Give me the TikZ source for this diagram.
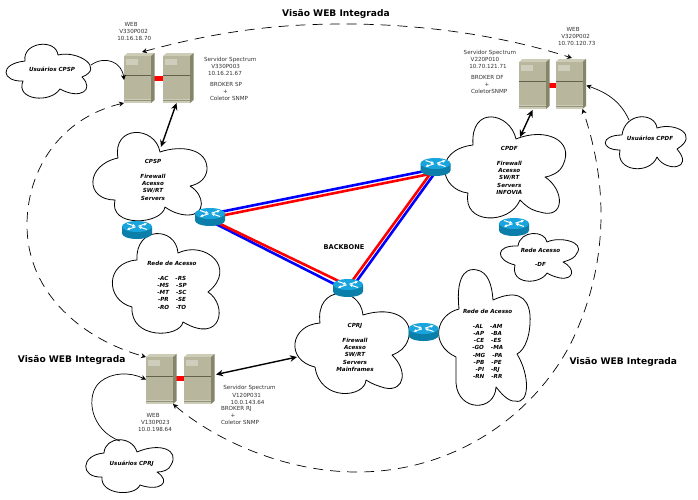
\documentclass[tikz,border=0pt]{standalone}
\usepackage{fontspec}
\setmainfont{DejaVu Sans}
\usetikzlibrary{arrows.meta,calc}
\definecolor{srvfront}{HTML}{B8B69C}
\definecolor{srvside}{HTML}{85856A}
\definecolor{srvtop}{HTML}{CDCCB6}
\definecolor{srvline}{HTML}{62624C}
\definecolor{srvpanel}{HTML}{CFCEBC}
\definecolor{rtrtop}{HTML}{18A4DC}
\definecolor{rtrbody}{HTML}{0B7FA9}
\tikzset{
  srvbox/.style={inner sep=0pt,outer sep=0pt,minimum width=27pt,minimum height=47pt},
  rtrbox/.style={inner sep=0pt,outer sep=0pt,minimum width=30pt,minimum height=18pt},
  cloudline/.style={draw=black,fill=white,line width=0.8pt,line join=round},
  redbar/.style={draw=red,line width=5pt},
  bluelink/.style={draw=blue,line width=2.6pt},
  redlink/.style={draw=red,line width=2.6pt},
  trunk/.style={line width=1.4pt,{Stealth[length=7pt,width=6.5pt]}-{Stealth[length=7pt,width=6.5pt]}},
  ring/.style={line width=0.7pt,dash pattern=on 10pt off 7pt,{Stealth[length=5pt,width=5pt]}-{Stealth[length=5pt,width=5pt]}},
  userlink/.style={line width=0.7pt,-{Stealth[length=5pt,width=5pt]}},
  srvlabel/.style={inner sep=0pt,outer sep=0pt,anchor=north west,align=left,text=black!80,font=\fontsize{5.6}{7.2}\selectfont},
  cloudlabel/.style={inner sep=0pt,outer sep=0pt,align=center,font=\fontsize{5.6}{7.25}\selectfont\bfseries\itshape},
  viewtitle/.style={inner sep=0pt,outer sep=0pt,font=\fontsize{9.1}{11}\selectfont\bfseries},
}
\newcommand{\srvdraw}[3]{%
  \begin{scope}[shift={(#2,#3)}]
    \fill[srvtop] (0,0) -- (3.5,-3) -- (30.5,-3) -- (27,0) -- cycle;
    \fill[srvside] (27,0) -- (30.5,-3) -- (30.5,44) -- (27,47) -- cycle;
    \fill[srvfront] (0,0) rectangle (27,47);
    \fill[srvpanel] (2,3) rectangle (14,9);
    \fill[srvtop] (0,42.5) rectangle (27,47);
    \draw[srvfront!80!black,line width=0.4pt] (0,44) -- (27,44);
    \draw[srvline,line width=0.8pt] (0,19) -- (27,19);
  \end{scope}
  \node[srvbox] (#1) at (#2+13.5,#3+23.5) {};
}
\newcommand{\rtrdraw}[3]{%
  \begin{scope}[shift={(#2,#3)}]
    \fill[rtrbody] (-15,0) -- (-15,7) arc[start angle=180,end angle=360,x radius=15,y radius=-5.5] -- (15,0) -- cycle;
    \fill[rtrtop] (0,0) ellipse [x radius=15,y radius=5.5];
    \draw[white,line width=1pt,-{Stealth[length=3.2pt,width=3.2pt]}] (-10,-3) -- (-1.5,-0.2);
    \draw[white,line width=1pt,-{Stealth[length=3.2pt,width=3.2pt]}] (10,3) -- (1.5,0.2);
    \draw[white,line width=1pt,-{Stealth[length=3.2pt,width=3.2pt]}] (-1.5,0.4) -- (-10,3);
    \draw[white,line width=1pt,-{Stealth[length=3.2pt,width=3.2pt]}] (1.5,-0.4) -- (10,-3);
  \end{scope}
  \node[rtrbox] (#1) at (#2,#3+3.5) {};
}
\begin{document}
\begin{tikzpicture}[x=1pt,y=-1pt]
\useasboundingbox (0,0) rectangle (698,499);
\fill[white] (0,0) rectangle (698,499);

% nodes that anchor the connectors
\node[srvbox] (web1) at (137.5,79.5) {};
\node[srvbox] (spc1) at (176.5,79.5) {};
\node[srvbox] (web2) at (569,85.5) {};
\node[srvbox] (spc2) at (532.5,85.5) {};
\node[srvbox] (web3) at (159.5,380.5) {};
\node[srvbox] (spc3) at (197.5,380.5) {};
\coordinate (edgecpsp) at (161,147);
\coordinate (edgecpdf) at (520,137);
\coordinate (edgecprj) at (297,357);
\coordinate (fromucpsp) at (91,65);
\coordinate (fromucpdf) at (629,120);
\coordinate (fromucprj) at (120,441);

% dashed rings
\draw[ring] ($(web1.north)+(4.5,-4)$) .. controls (230,28) and (290,24) .. (345,24)
  .. controls (430,24) and (510,38) .. ($(web2.north)+(3,-4)$);
\draw[ring] (web1.south west) .. controls (60,118) and (27,170) .. (27,225)
  .. controls (27,295) and (85,340) .. (web3.north west);
\draw[ring] (web3.south east) .. controls (215,440) and (285,472) .. (357,472)
  .. controls (450,472) and (530,420) .. (570,345)
  .. controls (600,285) and (615,205) .. (web2.south east);

% clouds
\draw[cloudline] (25,61) .. controls (22,42) and (56,38) .. (58,55)
  .. controls (78,50) and (105,68) .. (82,77)
  .. controls (95,90) and (80,100) .. (60,89)
  .. controls (50,104) and (15,100) .. (23,81)
  .. controls (2,82) and (-2,64) .. (25,61) -- cycle;
\node[cloudlabel] (ucpsp) at (52,69.3) {Usuários CPSP};

\draw[cloudline] (160,152) .. controls (180,145) and (208,148) .. (207,170)
  .. controls (206,178) and (200,184) .. (190,186)
  .. controls (205,195) and (206,215) .. (188,215)
  .. controls (180,215) and (172,212) .. (165,207)
  .. controls (162,225) and (108,228) .. (115,200)
  .. controls (85,200) and (85,165) .. (118,158)
  .. controls (112,125) and (155,125) .. (160,152) -- cycle;
\node[cloudlabel] (cpsp) at (153,180) {CPSP\\[7.25pt]Firewall\\Acesso\\SW/RT\\Servers};

\draw[cloudline] (137,260) .. controls (135,226) and (176,226) .. (178,253)
  .. controls (205,240) and (238,268) .. (208,292)
  .. controls (228,305) and (222,345) .. (183,322)
  .. controls (180,338) and (130,340) .. (132,307)
  .. controls (105,300) and (105,262) .. (137,260) -- cycle;
\node[cloudlabel] (redesp) at (172,285.3) {Rede de Acesso\\[7.25pt]-AC\hspace{7pt}-RS\\-MS\hspace{7pt}-SP\\-MT\hspace{7pt}-SC\\-PR\hspace{7pt}-SE\\-RO\hspace{7pt}-TO};

\draw[cloudline] (516,139) .. controls (545,127) and (575,140) .. (563,165)
  .. controls (560,172) and (552,176) .. (545,177)
  .. controls (565,190) and (565,220) .. (540,212)
  .. controls (530,210) and (525,205) .. (520,200)
  .. controls (510,225) and (462,225) .. (468,193)
  .. controls (440,190) and (432,150) .. (473,145)
  .. controls (470,105) and (510,112) .. (516,139) -- cycle;
\node[cloudlabel] (cpdf) at (509.3,170.7) {CPDF\\[7.25pt]Firewall\\Acesso\\SW/RT\\Servers\\INFOVIA};

\draw[cloudline] (622,135) .. controls (625,112) and (655,112) .. (657,128)
  .. controls (675,122) and (700,135) .. (677,149)
  .. controls (695,170) and (665,172) .. (657,157)
  .. controls (650,175) and (615,172) .. (620,150)
  .. controls (600,150) and (600,135) .. (622,135) -- cycle;
\node[cloudlabel] (ucpdf) at (650,138) {Usuários CPDF};

\draw[cloudline] (518,246) .. controls (520,230) and (545,230) .. (547,242)
  .. controls (560,236) and (585,242) .. (577,253)
  .. controls (575,258) and (570,260) .. (563,262)
  .. controls (575,268) and (575,280) .. (560,278)
  .. controls (555,277) and (550,275) .. (547,273)
  .. controls (540,285) and (510,285) .. (515,265)
  .. controls (495,260) and (495,245) .. (518,246) -- cycle;
\node[cloudlabel] (rededf) at (540.5,257.5) {Rede Acesso\\[7.25pt]-DF};

\draw[cloudline] (320,323) .. controls (315,285) and (360,285) .. (363,315)
  .. controls (395,305) and (415,320) .. (408,340)
  .. controls (405,348) and (400,352) .. (392,355)
  .. controls (408,370) and (405,392) .. (385,388)
  .. controls (378,386) and (372,384) .. (366,380)
  .. controls (365,398) and (320,402) .. (315,367)
  .. controls (285,360) and (290,325) .. (320,323) -- cycle;
\node[cloudlabel] (cprj) at (355,347.5) {CPRJ\\[7.25pt]Firewall\\Acesso\\SW/RT\\Servers\\Mainframes};

\draw[cloudline] (459,309) .. controls (455,270) and (470,268) .. (477,270)
  .. controls (488,272) and (492,285) .. (493,300)
  .. controls (515,290) and (528,295) .. (530,315)
  .. controls (531,335) and (525,350) .. (517,354)
  .. controls (530,375) and (530,405) .. (515,401)
  .. controls (508,402) and (500,392) .. (496,387)
  .. controls (495,412) and (458,412) .. (456,383)
  .. controls (456,375) and (456,365) .. (456,357)
  .. controls (430,345) and (435,315) .. (459,309) -- cycle;
\node[cloudlabel] (rederj) at (487.7,344) {Rede de Acesso\\[7.25pt]-AL\hspace{7pt}-AM\\-AP\hspace{7pt}-BA\\-CE\hspace{7pt}-ES\\-GO\hspace{7pt}-MA\\-MG\hspace{7pt}-PA\\-PB\hspace{7pt}-PE\\-PI\hspace{7pt}-RJ\\-RN\hspace{7pt}-RR};

\draw[cloudline] (104,453) .. controls (105,436) and (132,435) .. (137,452)
  .. controls (160,442) and (180,450) .. (171,465)
  .. controls (169,470) and (163,472) .. (157,472)
  .. controls (172,482) and (160,492) .. (140,485)
  .. controls (135,497) and (100,495) .. (102,477)
  .. controls (80,478) and (80,455) .. (104,453) -- cycle;
\node[cloudlabel] (ucprj) at (131.7,464.3) {Usuários CPRJ};

% routers' anchor nodes
\node[rtrbox] (rt2) at (210,217) {};
\node[rtrbox] (rt3) at (435,167) {};
\node[rtrbox] (rt5) at (348,288) {};

% backbone
\draw[bluelink] ($(rt2)+(0,-3)$) -- ($(rt3)+(0,2)$);
\draw[redlink] ($(rt2)+(0,1)$) -- ($(rt3)+(0,6)$);
\draw[bluelink] ($(rt2)+(-2,3)$) -- ($(rt5)+(-2,2)$);
\draw[redlink] ($(rt2)+(2,3)$) -- ($(rt5)+(1,-2)$);
\draw[bluelink] ($(rt3)+(2,3)$) -- ($(rt5)+(3,1)$);
\draw[redlink] ($(rt3)+(-2,3)$) -- ($(rt5)+(-1,0)$);

% red joins between servers
\draw[redbar] ($(web1.center)+(0,-1.5)$) -- ($(spc1.center)+(0,-1.5)$);
\draw[redbar] (spc2.center) -- (web2.center);
\draw[redbar] ($(web3.center)+(0,-2)$) -- ($(spc3.center)+(0,-2)$);

% servers
\srvdraw{web1a}{124}{56}
\srvdraw{spc1a}{163}{56}
\srvdraw{spc2a}{519}{62}
\srvdraw{web2a}{555.5}{62}
\srvdraw{web3a}{146}{357}
\srvdraw{spc3a}{184}{357}

% routers
\rtrdraw{rt1}{137}{226.5}
\rtrdraw{rt2a}{210}{213.5}
\rtrdraw{rt3a}{435.5}{163.5}
\rtrdraw{rt4}{514}{223.5}
\rtrdraw{rt5a}{348}{284.5}
\rtrdraw{rt6}{423.5}{328.5}

% connectors
\draw[trunk] (spc1.south) -- (edgecpsp);
\draw[trunk] ($(spc2.south)+(0,1)$) -- (edgecpdf);
\draw[trunk] ($(spc3.east)+(5,-6)$) -- (edgecprj);
\draw[userlink] (fromucpsp) .. controls (105,55) and (122,62) .. ($(web1.west)+(0,0.5)$);
\draw[userlink] (fromucpdf) .. controls (620,100) and (605,92) .. ($(web2.east)+(4,0)$);
\draw[userlink] (fromucprj) .. controls (90,430) and (85,395) .. (100,382)
  .. controls (112,372) and (130,372) .. ($(web3.west)+(0,-1)$);

% labels
\node[srvlabel] (lbweb1) at (117.3,22) {\hspace*{7.4pt}WEB\\\hspace*{2pt}V330P002\\10.16.18.70};
\node[srvlabel] (lbspc1) at (204,57) {Servidor Spectrum\\\hspace*{7.3pt}V330P003\\\hspace*{4pt}10.16.21.67\\[3.6pt]\hspace*{6pt}BROKER SP\\\hspace*{19pt}+\\\hspace*{6pt}Coletor SNMP};
\node[srvlabel] (lbweb2) at (558,27) {\hspace*{8.7pt}WEB\\\hspace*{3.3pt}V320P002\\10.70.120.73};
\node[srvlabel] (lbspc2) at (463.7,50.3) {Servidor Spectrum\\\hspace*{7pt}V220P010\\\hspace*{5.6pt}10.70.121.71\\[3.4pt]\hspace*{7.3pt}BROKER DF\\\hspace*{21pt}+\\\hspace*{7.3pt}ColetorSNMP};
\node[srvlabel] (lbweb3) at (138,413.3) {\hspace*{8.7pt}WEB\\\hspace*{3pt}V130P023\\10.0.198.64};
\node[srvlabel] (lbspc3) at (221,385.7) {\hspace*{2.3pt}Servidor Spectrum\\\hspace*{11.3pt}V120P031\\\hspace*{9.7pt}10.0.143.64\\[-1pt]BROKER RJ\\\hspace*{9.7pt}+\\Coletor SNMP};

\node[viewtitle] (tttop) at (336,14) {Visão WEB Integrada};
\node[viewtitle] (ttleft) at (71.7,360.3) {Visão WEB Integrada};
\node[viewtitle] (ttright) at (623.3,362) {Visão WEB Integrada};
\node[inner sep=0pt,font=\fontsize{6.6}{8}\selectfont\bfseries] (bbone) at (344,247) {BACKBONE};
\end{tikzpicture}
\end{document}
